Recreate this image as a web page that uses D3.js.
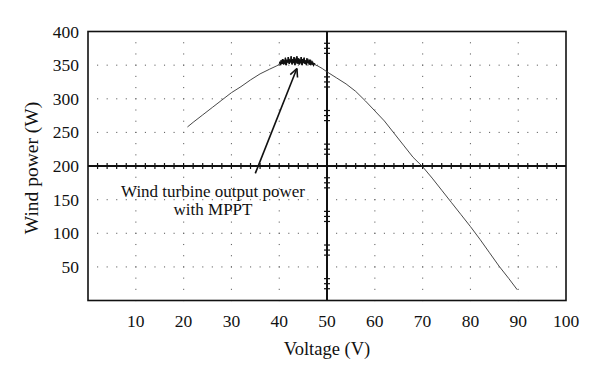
<!DOCTYPE html>
<html>
<head>
<meta charset="utf-8">
<script src="https://cdn.jsdelivr.net/npm/d3@7"></script>
<style>
  html, body { margin: 0; padding: 0; background: #fff; }
  svg { display: block; font-family: "Liberation Serif", "DejaVu Serif", serif; }
</style>
</head>
<body>
<svg id="chart" width="600" height="381"></svg>
<script>
// Voltage (V) ticks and power (W) ticks
const xTicks = [10, 20, 30, 40, 50, 60, 70, 80, 90, 100];
const yTicks = [50, 100, 150, 200, 250, 300, 350, 400];

// Wind turbine output power curve (smooth parts)
const voltageLeft = [20.8, 22, 24, 26, 28, 30, 32, 34, 36, 38, 39.5, 40.0];
const powerLeft = [258, 265, 276, 287, 298, 309, 318, 328, 337, 344, 349, 351];
// MPPT oscillation around the maximum power point
const voltageMppt = [
  40.1, 40.3, 40.4, 40.6, 40.7, 40.9, 41.0, 41.2, 41.3, 41.5, 41.6, 41.8, 41.9, 42.1, 42.2, 42.4,
  42.5, 42.7, 42.8, 43.0, 43.1, 43.3, 43.4, 43.6, 43.7, 43.9, 44.0, 44.2, 44.3, 44.5, 44.6, 44.8,
  44.9, 45.1, 45.2, 45.4, 45.5, 45.7, 45.8, 46.0, 46.1, 46.3, 46.4, 46.6, 46.7, 46.9, 47.0, 47.2, 47.4
];
const powerMppt = [
  355, 350, 357, 352, 359, 351, 356, 353, 361, 350, 358, 354, 362, 352, 357, 355,
  363, 351, 359, 353, 362, 350, 358, 355, 363, 352, 360, 351, 357, 354, 362, 350,
  359, 353, 361, 352, 357, 350, 360, 353, 356, 351, 358, 350, 355, 352, 354, 350, 353
];
const voltageRight = [47.6, 48, 49, 50, 52, 54, 56, 58, 60, 62, 64, 66, 68, 70, 72, 74, 76, 78, 80, 82, 84, 86, 88, 89.8];
const powerRight = [350, 349, 345, 340, 331, 322, 311, 297, 282, 267, 249, 231, 213, 199, 182, 164, 146, 128, 110, 91, 71, 51, 33, 16];

const annotation = ['Wind turbine output power', 'with MPPT'];
const arrowFrom = { v: 35.0, p: 189 };
const arrowTo = { v: 43.7, p: 345 };

const svg = d3.select('#chart');
const x = d3.scaleLinear().domain([0, 100]).range([88, 566]);
const y = d3.scaleLinear().domain([0, 400]).range([300.5, 31.5]);

// dotted grid
const grid = svg.append('g').attr('fill', '#666');
xTicks.filter(v => v !== 50 && v !== 100).forEach(v => {
  d3.range(0, 400, 50 / 3).forEach(p => {
    grid.append('rect').attr('x', x(v) - 0.5).attr('y', y(p) - 0.5).attr('width', 1.1).attr('height', 1.1);
  });
});
yTicks.filter(p => p !== 200 && p !== 400).forEach(p => {
  d3.range(2, 100, 2).forEach(v => {
    grid.append('rect').attr('x', x(v) - 0.5).attr('y', y(p) - 0.5).attr('width', 1.1).attr('height', 1.1);
  });
});

// centre cross axes with small ticks
const cross = svg.append('g').attr('stroke', '#111');
cross.append('line').attr('x1', x(0)).attr('x2', x(100)).attr('y1', y(200)).attr('y2', y(200)).attr('stroke-width', 2);
cross.append('line').attr('x1', x(50)).attr('x2', x(50)).attr('y1', y(0)).attr('y2', y(400)).attr('stroke-width', 2);
d3.range(2, 100, 2).forEach(v => {
  cross.append('line').attr('x1', x(v)).attr('x2', x(v)).attr('y1', y(200) - 3).attr('y2', y(200) + 3).attr('stroke-width', 1.2);
});
d3.range(25, 400, 50).forEach(p => {
  [-7.5, 0, 7.5].forEach(d => {
    cross.append('line').attr('x1', x(50) - 3).attr('x2', x(50) + 3).attr('y1', y(p + d)).attr('y2', y(p + d)).attr('stroke-width', 1.2);
  });
});

// frame
svg.append('rect')
  .attr('x', x(0)).attr('y', y(400))
  .attr('width', x(100) - x(0)).attr('height', y(0) - y(400))
  .attr('fill', 'none').attr('stroke', '#111').attr('stroke-width', 1.6);

// curve
const line = d3.line().x(d => x(d[0])).y(d => y(d[1]));
const pts = voltageLeft.map((v, i) => [v, powerLeft[i]])
  .concat(voltageMppt.map((v, i) => [v, powerMppt[i]]))
  .concat(voltageRight.map((v, i) => [v, powerRight[i]]));
svg.append('path')
  .datum(pts)
  .attr('fill', 'none')
  .attr('stroke', '#333')
  .attr('stroke-width', 0.9)
  .attr('d', line);
// the oscillating segment prints thicker
svg.append('path')
  .datum(voltageMppt.map((v, i) => [v, powerMppt[i]]))
  .attr('fill', 'none')
  .attr('stroke', '#111')
  .attr('stroke-width', 1.4)
  .attr('d', line);

// tick labels
svg.append('g').selectAll('text').data(xTicks).enter().append('text')
  .attr('x', d => x(d)).attr('y', 327)
  .attr('text-anchor', 'middle').attr('font-size', 17.5).attr('fill', '#111')
  .text(d => d);
svg.append('g').selectAll('text').data(yTicks).enter().append('text')
  .attr('x', 79).attr('y', d => y(d) + 6)
  .attr('text-anchor', 'end').attr('font-size', 17.5).attr('fill', '#111')
  .text(d => d);

// axis titles
svg.append('text').attr('x', 327).attr('y', 355)
  .attr('text-anchor', 'middle').attr('font-size', 18.5).attr('fill', '#111')
  .text('Voltage (V)');
svg.append('text').attr('transform', `translate(38,${y(200) + 2}) rotate(-90)`)
  .attr('text-anchor', 'middle').attr('font-size', 19.5).attr('fill', '#111')
  .text('Wind power (W)');

// annotation arrow
const ax1 = x(arrowFrom.v), ay1 = y(arrowFrom.p), ax2 = x(arrowTo.v), ay2 = y(arrowTo.p);
const ang = Math.atan2(ay2 - ay1, ax2 - ax1);
const arrow = svg.append('g').attr('stroke', '#111').attr('stroke-width', 1.6).attr('fill', 'none');
arrow.append('line').attr('x1', ax1).attr('y1', ay1).attr('x2', ax2).attr('y2', ay2);
[-0.45, 0.45].forEach(a => {
  arrow.append('line').attr('x1', ax2).attr('y1', ay2)
    .attr('x2', ax2 - 9 * Math.cos(ang + a)).attr('y2', ay2 - 9 * Math.sin(ang + a));
});

svg.append('g').selectAll('text').data(annotation).enter().append('text')
  .attr('x', 213).attr('y', (d, i) => 197 + i * 18)
  .attr('text-anchor', 'middle').attr('font-size', 17).attr('fill', '#111')
  .text(d => d);
</script>
</body>
</html>
